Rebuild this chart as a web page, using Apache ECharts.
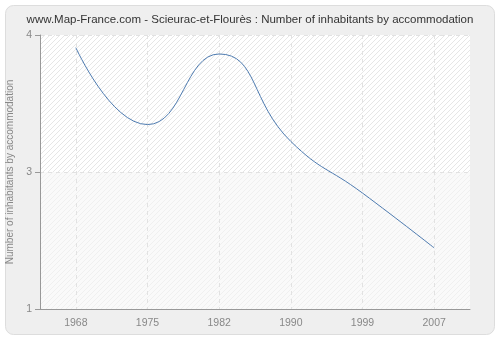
<!DOCTYPE html>
<html>
<head>
<meta charset="utf-8">
<script src="https://cdn.jsdelivr.net/npm/echarts@6/dist/echarts.min.js"></script>
<style>
  html, body { margin: 0; padding: 0; background: #ffffff; }
  #chart { width: 500px; height: 340px; }
</style>
</head>
<body>
<div id="chart"></div>
<script>
// Census years and average number of inhabitants per accommodation
const years = ['1968', '1975', '1982', '1990', '1999', '2007'];
const inhabitantsPerHome = [3.78, 3.05, 3.72, 2.89, 2.40, 1.88];

// Y axis range and its printed tick labels
const yMin = 1.3;
const yMax = 3.9;
const yStep = 1.3;
const yTickText = { '1.3': '1', '2.6': '3', '3.9': '4' };

const titleText = 'www.Map-France.com - Scieurac-et-Flourès : Number of inhabitants by accommodation';
const yAxisTitle = 'Number of inhabitants by accommodation';

const FONT = 'Liberation Sans';

// Small diagonal hatch tile used as plot background
function hatch(bg, line) {
  const c = document.createElement('canvas');
  c.width = 5; c.height = 5;
  const g = c.getContext('2d');
  g.fillStyle = bg;
  g.fillRect(0, 0, 5, 5);
  g.strokeStyle = line;
  g.lineWidth = 1;
  g.beginPath();
  g.moveTo(-1, 6); g.lineTo(6, -1);
  g.moveTo(-1, 1); g.lineTo(1, -1);
  g.moveTo(4, 6); g.lineTo(6, 4);
  g.stroke();
  return c;
}

const upperFill = { image: hatch('#ffffff', '#e6e6e6'), repeat: 'repeat' };
const lowerFill = { image: hatch('#fafafa', '#f0f0f0'), repeat: 'repeat' };

const chart = echarts.init(document.getElementById('chart'), null, { renderer: 'canvas' });

chart.setOption({
  animation: false,
  backgroundColor: '#ffffff',
  graphic: [{
    type: 'rect',
    z: -10,
    silent: true,
    shape: { x: 5.5, y: 5.5, width: 489, height: 329, r: 8 },
    style: { fill: '#efefef', stroke: '#dddddd', lineWidth: 1 }
  }],
  title: {
    text: titleText,
    left: 'center',
    top: 9,
    textStyle: { fontFamily: FONT, fontSize: 11.5, fontWeight: 'normal', color: '#333333' }
  },
  grid: { left: 40, right: 30, top: 35, bottom: 31, containLabel: false, outerBoundsMode: 'none' },
  xAxis: {
    type: 'category',
    data: years,
    boundaryGap: true,
    axisLine: { lineStyle: { color: '#999999', width: 1 } },
    axisTick: { alignWithLabel: true, length: 5, lineStyle: { color: '#999999' } },
    axisLabel: { color: '#888888', fontFamily: FONT, fontSize: 10.5, margin: 9 },
    splitLine: { show: true, alignWithLabel: true, lineStyle: { color: '#e2e2e2', type: [4, 4] } }
  },
  yAxis: {
    type: 'value',
    min: yMin,
    max: yMax,
    interval: yStep,
    name: yAxisTitle,
    nameLocation: 'middle',
    nameGap: 19,
    nameTextStyle: { color: '#888888', fontFamily: FONT, fontSize: 10 },
    axisLine: { show: true, lineStyle: { color: '#999999', width: 1 } },
    axisTick: { show: true, length: 5, lineStyle: { color: '#999999' } },
    axisLabel: {
      color: '#888888', fontFamily: FONT, fontSize: 10.5, margin: 8,
      formatter: v => yTickText[v.toFixed(1)] || ''
    },
    splitLine: { show: true, lineStyle: { color: '#e2e2e2', type: [4, 4] } }
  },
  series: [{
    type: 'line',
    data: inhabitantsPerHome,
    smooth: 0.5,
    symbol: 'none',
    lineStyle: { color: '#4e7bb0', width: 1 },
    markArea: {
      silent: true,
      z: -1,
      data: [
        [{ yAxis: 2.6, itemStyle: { color: upperFill } }, { yAxis: yMax }],
        [{ yAxis: yMin, itemStyle: { color: lowerFill } }, { yAxis: 2.6 }]
      ]
    }
  }]
});
</script>
</body>
</html>
